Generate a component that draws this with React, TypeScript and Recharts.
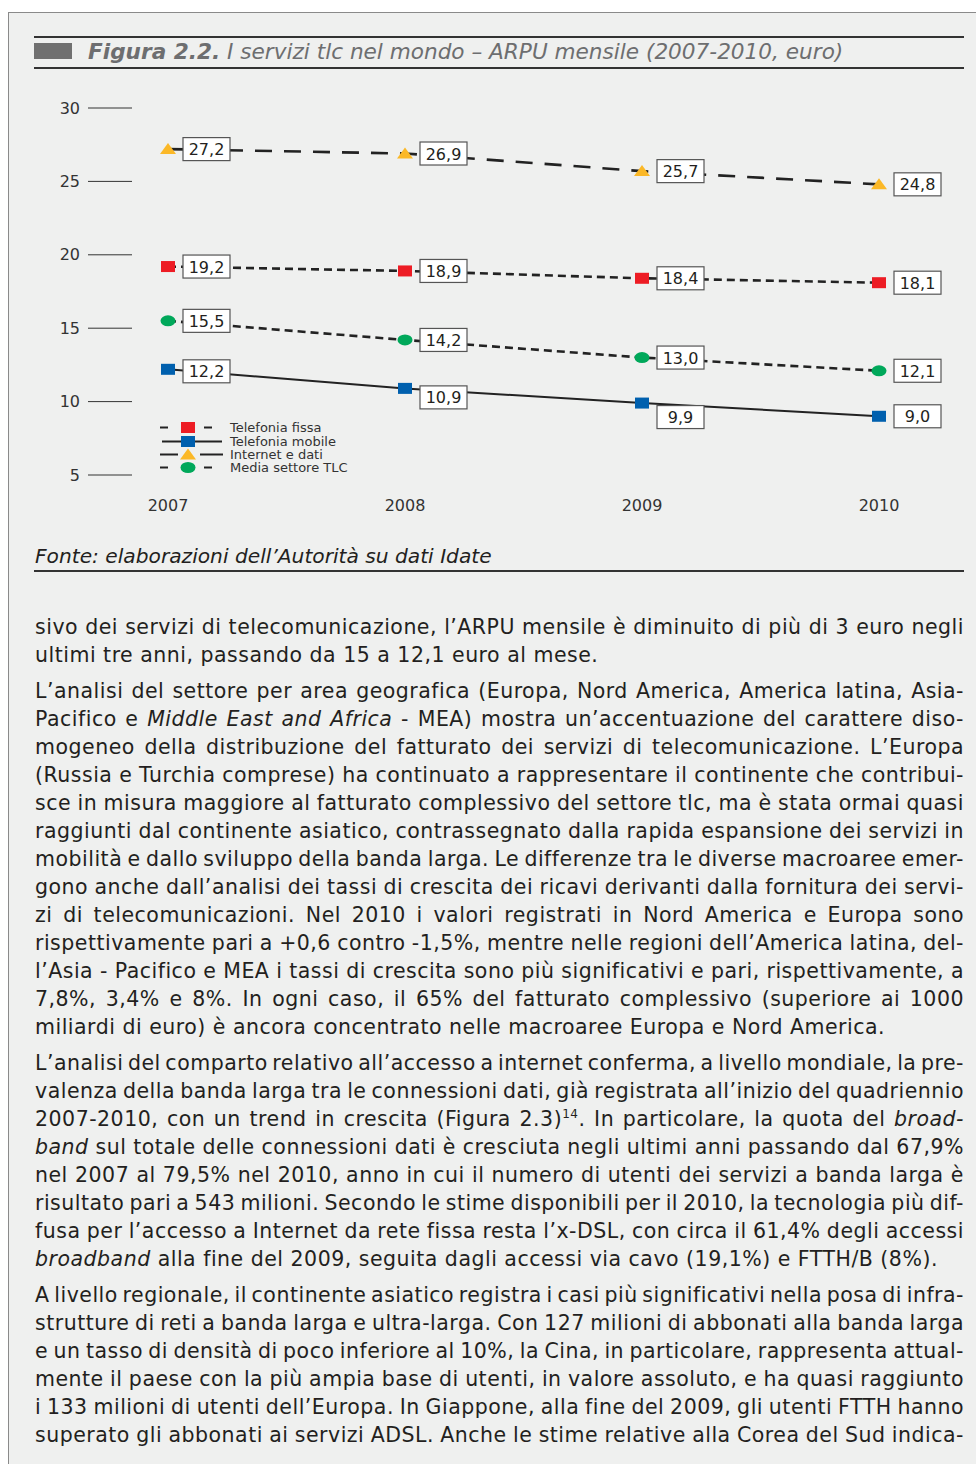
import React from "react";
import { LineChart, Line, XAxis, YAxis, Legend, LabelList } from "recharts";

// values (euro / month)
const years = ["2007", "2008", "2009", "2010"];
const telefoniaFissa = [19.2, 18.9, 18.4, 18.1];
const telefoniaMobile = [12.2, 10.9, 9.9, 9.0];
const internetDati = [27.2, 26.9, 25.7, 24.8];
const mediaTlc = [15.5, 14.2, 13.0, 12.1];
const yTicks = [5, 10, 15, 20, 25, 30];

const data = years.map((year, i) => ({
  year,
  fissa: telefoniaFissa[i],
  mobile: telefoniaMobile[i],
  internet: internetDati[i],
  media: mediaTlc[i],
}));

const FONT = '"DejaVu Sans", Verdana, sans-serif';
const INK = "#231f20";

const RED = "#ed1c24";
const BLUE = "#0060ae";
const YELLOW = "#fbb827";
const GREEN = "#00a85a";

type Shape = "square" | "triangle" | "ellipse";

const drawMarker = (shape: Shape, color: string, cx: number, cy: number, key?: string) => {
  if (shape === "triangle") {
    return (
      <polygon
        key={key}
        points={`${cx - 8},${cy + 5} ${cx + 8},${cy + 5} ${cx},${cy - 6}`}
        fill={color}
      />
    );
  }
  if (shape === "ellipse") {
    return <ellipse key={key} cx={cx} cy={cy} rx={7.5} ry={5.5} fill={color} />;
  }
  return <rect key={key} x={cx - 7} y={cy - 5.5} width={14} height={11} fill={color} />;
};

const makeDot = (shape: Shape, color: string) => (props: any) => {
  const { cx, cy, index } = props;
  if (cx == null || cy == null) return <g key={`d-${index}`} />;
  return drawMarker(shape, color, cx, cy, `d-${shape}-${index}`);
};

// white boxed value label, to the right of the marker
const makeLabel = (shiftY: number[] = []) => (props: any) => {
  const { x, y, value, index } = props;
  if (x == null || y == null) return null;
  const w = 47;
  const h = 23;
  const left = x + 15;
  const cy = y + (shiftY[index] || 0);
  return (
    <g key={`l-${index}`}>
      <rect x={left} y={cy - h / 2} width={w} height={h} fill="#fff" stroke="#555" strokeWidth={1.2} />
      <text
        x={left + w / 2}
        y={cy + 6}
        textAnchor="middle"
        fontFamily={FONT}
        fontSize={16}
        fill={INK}
      >
        {Number(value).toFixed(1).replace(".", ",")}
      </text>
    </g>
  );
};

const legendRows: { label: string; shape: Shape; color: string; line: "dash" | "solid" | "split" }[] = [
  { label: "Telefonia fissa", shape: "square", color: RED, line: "dash" },
  { label: "Telefonia mobile", shape: "square", color: BLUE, line: "solid" },
  { label: "Internet e dati", shape: "triangle", color: YELLOW, line: "split" },
  { label: "Media settore TLC", shape: "ellipse", color: GREEN, line: "dash" },
];

const renderLegend = () => (
  <div style={{ fontFamily: FONT, fontSize: 13, color: "#333" }}>
    {legendRows.map((r) => (
      <div key={r.label} style={{ display: "flex", alignItems: "center", height: 13.4 }}>
        <svg width={70} height={13} style={{ display: "block" }}>
          {r.line === "dash" && (
            <>
              <line x1={0} x2={8} y1={6.5} y2={6.5} stroke="#222" strokeWidth={2} />
              <line x1={44} x2={52} y1={6.5} y2={6.5} stroke="#222" strokeWidth={2} />
            </>
          )}
          {r.line === "solid" && <line x1={2} x2={62} y1={6.5} y2={6.5} stroke="#222" strokeWidth={2} />}
          {r.line === "split" && (
            <>
              <line x1={0} x2={18} y1={6.5} y2={6.5} stroke="#222" strokeWidth={2} />
              <line x1={40} x2={63} y1={6.5} y2={6.5} stroke="#222" strokeWidth={2} />
            </>
          )}
          {drawMarker(r.shape, r.color, 28, 6.5)}
        </svg>
        <span style={{ lineHeight: "13px" }}>{r.label}</span>
      </div>
    ))}
  </div>
);

// body text, one entry per printed line; *...* = italic, ^...^ = superscript
const paragraphs: string[][] = [
  [
    "sivo dei servizi di telecomunicazione, l’ARPU mensile è diminuito di più di 3 euro negli",
    "ultimi tre anni, passando da 15 a 12,1 euro al mese.",
  ],
  [
    "L’analisi del settore per area geografica (Europa, Nord America, America latina, Asia-",
    "Pacifico e *Middle East and Africa* - MEA) mostra un’accentuazione del carattere diso-",
    "mogeneo della distribuzione del fatturato dei servizi di telecomunicazione. L’Europa",
    "(Russia e Turchia comprese) ha continuato a rappresentare il continente che contribui-",
    "sce in misura maggiore al fatturato complessivo del settore tlc, ma è stata ormai quasi",
    "raggiunti dal continente asiatico, contrassegnato dalla rapida espansione dei servizi in",
    "mobilità e dallo sviluppo della banda larga. Le differenze tra le diverse macroaree emer-",
    "gono anche dall’analisi dei tassi di crescita dei ricavi derivanti dalla fornitura dei servi-",
    "zi di telecomunicazioni. Nel 2010 i valori registrati in Nord America e Europa sono",
    "rispettivamente pari a +0,6 contro -1,5%, mentre nelle regioni dell’America latina, del-",
    "l’Asia - Pacifico e MEA i tassi di crescita sono più significativi e pari, rispettivamente, a",
    "7,8%, 3,4% e 8%. In ogni caso, il 65% del fatturato complessivo (superiore ai 1000",
    "miliardi di euro) è ancora concentrato nelle macroaree Europa e Nord America.",
  ],
  [
    "L’analisi del comparto relativo all’accesso a internet conferma, a livello mondiale, la pre-",
    "valenza della banda larga tra le connessioni dati, già registrata all’inizio del quadriennio",
    "2007-2010, con un trend in crescita (Figura 2.3)^14^. In particolare, la quota del *broad-*",
    "*band* sul totale delle connessioni dati è cresciuta negli ultimi anni passando dal 67,9%",
    "nel 2007 al 79,5% nel 2010, anno in cui il numero di utenti dei servizi a banda larga è",
    "risultato pari a 543 milioni. Secondo le stime disponibili per il 2010, la tecnologia più dif-",
    "fusa per l’accesso a Internet da rete fissa resta l’x-DSL, con circa il 61,4% degli accessi",
    "*broadband* alla fine del 2009, seguita dagli accessi via cavo (19,1%) e FTTH/B (8%).",
  ],
  [
    "A livello regionale, il continente asiatico registra i casi più significativi nella posa di infra-",
    "strutture di reti a banda larga e ultra-larga. Con 127 milioni di abbonati alla banda larga",
    "e un tasso di densità di poco inferiore al 10%, la Cina, in particolare, rappresenta attual-",
    "mente il paese con la più ampia base di utenti, in valore assoluto, e ha quasi raggiunto",
    "i 133 milioni di utenti dell’Europa. In Giappone, alla fine del 2009, gli utenti FTTH hanno",
    "superato gli abbonati ai servizi ADSL. Anche le stime relative alla Corea del Sud indica-",
  ],
];

const renderRich = (line: string) => {
  const parts = line.split(/(\*[^*]+\*|\^[^^]+\^)/g).filter(Boolean);
  return parts.map((p, i) => {
    if (p.startsWith("*")) return <i key={i}>{p.slice(1, -1)}</i>;
    if (p.startsWith("^")) return <sup key={i} style={{ fontSize: 12, lineHeight: 0 }}>{p.slice(1, -1)}</sup>;
    return <span key={i}>{p}</span>;
  });
};

const BodyText = () => {
  const blocks: React.ReactNode[] = [];
  let top = 613;
  paragraphs.forEach((lines, pi) => {
    lines.forEach((line, li) => {
      const last = li === lines.length - 1 && pi !== paragraphs.length - 1;
      blocks.push(
        <div
          key={`${pi}-${li}`}
          style={{
            position: "absolute",
            left: 35,
            top,
            width: 929,
            height: 28,
            lineHeight: "28px",
            whiteSpace: "nowrap",
            wordSpacing: last ? 0 : -2.5,
            textAlign: last ? "left" : "justify",
            textAlignLast: last ? "left" : "justify",
          }}
        >
          {renderRich(line)}
        </div>
      );
      top += 28;
    });
    top += 8;
  });
  return <>{blocks}</>;
};

export default function App() {
  return (
    <div
      style={{
        position: "absolute",
        left: 0,
        top: 0,
        width: 976,
        height: 1464,
        background: "#fff",
        overflow: "hidden",
        fontFamily: FONT,
      }}
    >
      {/* page frame */}
      <div
        style={{
          position: "absolute",
          left: 8,
          top: 12,
          width: 976,
          height: 1464,
          background: "#eff0ef",
          borderLeft: "1.5px solid #8a8a8a",
          borderTop: "1.5px solid #8a8a8a",
        }}
      />

      {/* figure title */}
      <div style={{ position: "absolute", left: 34, top: 36, width: 930, height: 2, background: "#333" }} />
      <div style={{ position: "absolute", left: 34, top: 43, width: 38, height: 16, background: "#707070" }} />
      <div
        style={{
          position: "absolute",
          left: 88,
          top: 38,
          height: 28,
          lineHeight: "28px",
          fontSize: 21.6,
          fontStyle: "italic",
          color: "#6d6e70",
          whiteSpace: "nowrap",
        }}
      >
        <b>Figura 2.2.</b>
        <span> I servizi tlc nel mondo – ARPU mensile (2007-2010, euro)</span>
      </div>
      <div style={{ position: "absolute", left: 34, top: 67, width: 930, height: 2, background: "#333" }} />

      {/* chart */}
      <div style={{ position: "absolute", left: 35, top: 80 }}>
        <LineChart width={930} height={450} data={data} margin={{ top: 28, right: 15, bottom: 0, left: 0 }}>
          <XAxis
            dataKey="year"
            type="category"
            padding={{ left: 36, right: 71 }}
            axisLine={false}
            tickLine={false}
            tickMargin={19}
            height={55}
            tick={{ fontFamily: FONT, fontSize: 16, fill: "#333" }}
          />
          <YAxis
            type="number"
            domain={[5, 30]}
            ticks={yTicks}
            width={97}
            axisLine={false}
            tickSize={44}
            tickMargin={8}
            tickLine={{ stroke: "#333", strokeWidth: 1 }}
            tick={{ fontFamily: FONT, fontSize: 16, fill: "#333" }}
          />
          <Legend
            layout="horizontal"
            verticalAlign="middle"
            align="center"
            content={renderLegend}
            wrapperStyle={{ left: 125, top: 341, width: 220 }}
          />
          <Line
            dataKey="internet"
            type="linear"
            stroke="#222"
            strokeWidth={2.6}
            strokeDasharray="17 12"
            dot={makeDot("triangle", YELLOW)}
            isAnimationActive={false}
          >
            <LabelList dataKey="internet" content={makeLabel()} />
          </Line>
          <Line
            dataKey="fissa"
            type="linear"
            stroke="#222"
            strokeWidth={2.6}
            strokeDasharray="8 5"
            dot={makeDot("square", RED)}
            isAnimationActive={false}
          >
            <LabelList dataKey="fissa" content={makeLabel()} />
          </Line>
          <Line
            dataKey="media"
            type="linear"
            stroke="#222"
            strokeWidth={2.6}
            strokeDasharray="8 5"
            dot={makeDot("ellipse", GREEN)}
            isAnimationActive={false}
          >
            <LabelList dataKey="media" content={makeLabel()} />
          </Line>
          <Line
            dataKey="mobile"
            type="linear"
            stroke="#222"
            strokeWidth={2}
            dot={makeDot("square", BLUE)}
            isAnimationActive={false}
          >
            <LabelList dataKey="mobile" content={makeLabel([2, 9, 14, 0])} />
          </Line>
        </LineChart>
      </div>

      {/* source */}
      <div
        style={{
          position: "absolute",
          left: 35,
          top: 542,
          lineHeight: "28px",
          fontSize: 20.2,
          fontStyle: "italic",
          color: INK,
          whiteSpace: "nowrap",
        }}
      >
        Fonte: elaborazioni dell’Autorità su dati Idate
      </div>
      <div style={{ position: "absolute", left: 34, top: 570, width: 930, height: 2, background: "#333" }} />

      {/* running text */}
      <div style={{ position: "absolute", left: 0, top: 0, fontSize: 20.5, letterSpacing: 0.5, color: INK }}>
        <BodyText />
      </div>
    </div>
  );
}
